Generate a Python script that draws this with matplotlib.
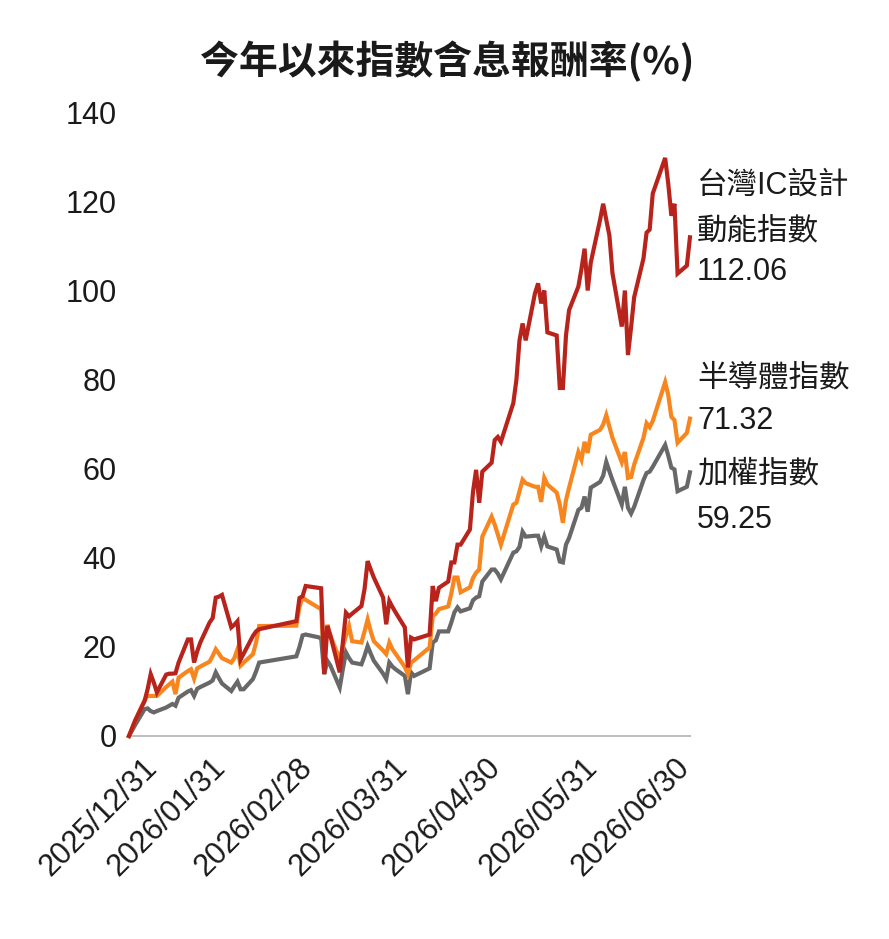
import numpy as np
import pandas as pd
import matplotlib
matplotlib.use("Agg")
import matplotlib.pyplot as plt
import matplotlib.dates as mdates
from matplotlib.transforms import ScaledTranslation

plt.rcParams['font.family'] = ['Liberation Sans', 'Noto Sans CJK TC']

# trading days (TWSE holidays removed)
holidays = ['2026-01-01', '2026-02-12', '2026-02-13', '2026-02-16', '2026-02-17',
            '2026-02-18', '2026-02-19', '2026-02-20', '2026-02-27', '2026-04-03',
            '2026-04-06', '2026-05-01', '2026-06-19']
dates = pd.bdate_range('2025-12-31', '2026-06-30', freq='C', holidays=holidays)

ic_design = [
    0, 3.5,
    7.8, 10.5, 13.9, 12.0, 9.8,
    13.8, 14.0, 14.0, 14.1, 16.5,
    21.7, 21.7, 16.5, 19.0, 21.0,
    25.5, 26.5, 31.1, 31.3, 31.7,
    24.4, 25.0, 25.8, 17.2, 18.5,
    22.5, 23.5, 24.0,
    25.8, 31.0, 31.4, 33.7,
    33.3, 33.2, 13.9, 24.7, 22.5,
    14.3, 21.0, 27.7, 26.9, 27.5,
    29.2, 33.0, 39.3, 37.4, 35.6,
    31.1, 25.1, 30.3, 29.0, 27.8,
    24.4, 15.4, 22.1, 21.7,
    22.8, 33.7, 30.3, 33.3,
    34.7, 39.0, 39.0, 43.0, 43.0,
    46.4, 54.9, 59.8, 52.4, 59.4,
    61.4, 66.5, 67.2, 66.1,
    74.8, 80.0, 88.9, 92.7, 88.9,
    99.5, 101.7, 97.2, 100.1, 90.7,
    90.0, 78.2, 78.2, 90.0, 95.7,
    101.0, 105.0, 109.5, 100.1, 106.4,
    116.0, 119.6, 116.0, 112.5, 104.0,
    92.0, 100.1, 85.6, 91.8, 98.6,
    107.3, 113.1, 113.8, 121.9,
    129.9, 124.1, 116.9, 119.6, 103.9,
    105.7, 112.06,
]

semiconductor = [
    0, 3.5,
    8.0, 9.0, 9.0, 9.0, 9.0,
    11.0, 11.6, 12.2, 9.4, 13.1,
    14.6, 15.0, 12.9, 15.2, 15.6,
    16.7, 18.0, 19.5, 18.5, 17.5,
    16.5, 17.5, 19.5, 15.8, 16.5,
    18.4, 21.0, 24.7,
    24.8, 29.0, 31.1, 30.6,
    28.9, 28.5, 16.0, 25.0, 22.5,
    17.2, 20.0, 22.5, 24.7, 21.3,
    21.0, 23.5, 26.2, 23.5, 21.3,
    19.2, 18.4, 21.0, 19.5, 18.5,
    15.5, 13.9, 16.5, 17.0,
    19.9, 26.9, 27.5, 28.5,
    29.1, 32.0, 35.6, 35.6, 32.3,
    33.4, 35.5, 36.7, 37.4, 44.8,
    49.3, 47.5, 45.3, 43.0,
    52.0, 52.4, 55.0, 57.6, 56.8,
    56.0, 56.0, 52.6, 58.0, 56.5,
    54.7, 52.0, 47.9, 53.0, 55.8,
    63.8, 62.1, 66.1, 63.6, 67.7,
    68.8, 70.0, 72.1, 69.5, 67.0,
    61.5, 63.8, 58.0, 58.2, 61.0,
    67.0, 70.3, 69.4, 70.8,
    79.5, 76.6, 71.7, 71.0, 65.9,
    68.1, 71.32,
]

taiex = [
    0, 2.5,
    6.0, 6.2, 5.6, 5.3, 5.6,
    6.4, 6.8, 7.2, 6.8, 8.6,
    10.0, 10.3, 9.0, 10.6, 11.0,
    12.0, 12.5, 14.3, 13.0, 11.8,
    10.1, 11.2, 12.2, 10.5, 10.5,
    12.8, 14.5, 16.5,
    17.9, 20.0, 22.6, 22.8,
    22.2, 22.0, 13.9, 16.9, 15.8,
    10.9, 15.0, 18.8, 17.5, 16.5,
    16.1, 18.0, 20.2, 18.5, 16.9,
    14.0, 12.8, 16.5, 15.6, 15.0,
    13.5, 9.4, 14.3, 13.5,
    15.2, 21.0, 21.5, 23.5,
    23.5, 25.5, 27.8, 28.9, 28.0,
    28.7, 30.5, 31.1, 31.4, 34.7,
    37.4, 37.4, 36.5, 35.2,
    41.2, 41.5, 42.5, 45.9, 44.8,
    45.0, 45.0, 42.6, 44.8, 42.6,
    41.9, 39.2, 39.0, 43.0, 44.5,
    50.8, 51.3, 53.8, 50.4, 55.8,
    57.1, 58.5, 61.6, 59.5, 57.5,
    52.0, 56.0, 51.3, 50.0, 51.5,
    57.5, 59.1, 59.4, 60.5,
    65.4, 63.0, 60.3, 59.9, 55.0,
    56.0, 59.25,
]

tick_dates = ['2025-12-31', '2026-01-31', '2026-02-28', '2026-03-31',
              '2026-04-30', '2026-05-31', '2026-06-30']
tick_labels = ['2025/12/31', '2026/01/31', '2026/02/28', '2026/03/31',
               '2026/04/30', '2026/05/31', '2026/06/30']

c_red = '#B8241C'
c_orange = '#F7861E'
c_gray = '#686868'
txt = '#1a1a1a'

fig = plt.figure(figsize=(8.89, 9.39), dpi=100)
ax = fig.add_axes([0.1451, 0.2162, 0.6310, 0.6635])

# gray under orange under red
for vals, col in [(taiex, c_gray), (semiconductor, c_orange), (ic_design, c_red)]:
    ax.plot(dates, vals, color=col, lw=3.0, solid_joinstyle='miter', clip_on=False, zorder=3)

ax.set_ylim(0, 140)
ax.set_yticks(range(0, 141, 20))
ax.set_xlim(dates[0], dates[-1])
ax.set_xticks(pd.to_datetime(tick_dates))
ax.set_xticklabels(tick_labels, rotation=45, ha='right', va='top', rotation_mode='anchor')

for s in ['top', 'right', 'left']:
    ax.spines[s].set_visible(False)
ax.spines['bottom'].set_color('#BFBFBF')
ax.spines['bottom'].set_linewidth(1.5)
ax.tick_params(axis='both', length=0, labelsize=22, colors=txt)
ax.tick_params(axis='y', pad=9)
ax.tick_params(axis='x', pad=12)

# nudge date labels so their ends sit on the ticks; the first one is pushed right
for i, lab in enumerate(ax.get_xticklabels()):
    dx = 13 if i == 0 else -15
    lab.set_transform(lab.get_transform() + ScaledTranslation(dx / 100, 0, fig.dpi_scale_trans))

fig.text(0.503, 0.934, '今年以來指數含息報酬率(%)', ha='center', va='center',
         fontsize=28, fontweight='bold', family='Noto Sans CJK TC', color=txt)

# end labels
lx = 697 / 889
end_lines = [('台灣IC設計', 186), ('動能指數', 231), (f'{ic_design[-1]:.2f}', 272),
             ('半導體指數', 378), (f'{semiconductor[-1]:.2f}', 421),
             ('加權指數', 474), (f'{taiex[-1]:.2f}', 520)]
for s, py in end_lines:
    fig.text(lx, 1 - py / 939, s, ha='left', va='center', fontsize=22, color=txt)

fig.savefig('out.png', dpi=100)
